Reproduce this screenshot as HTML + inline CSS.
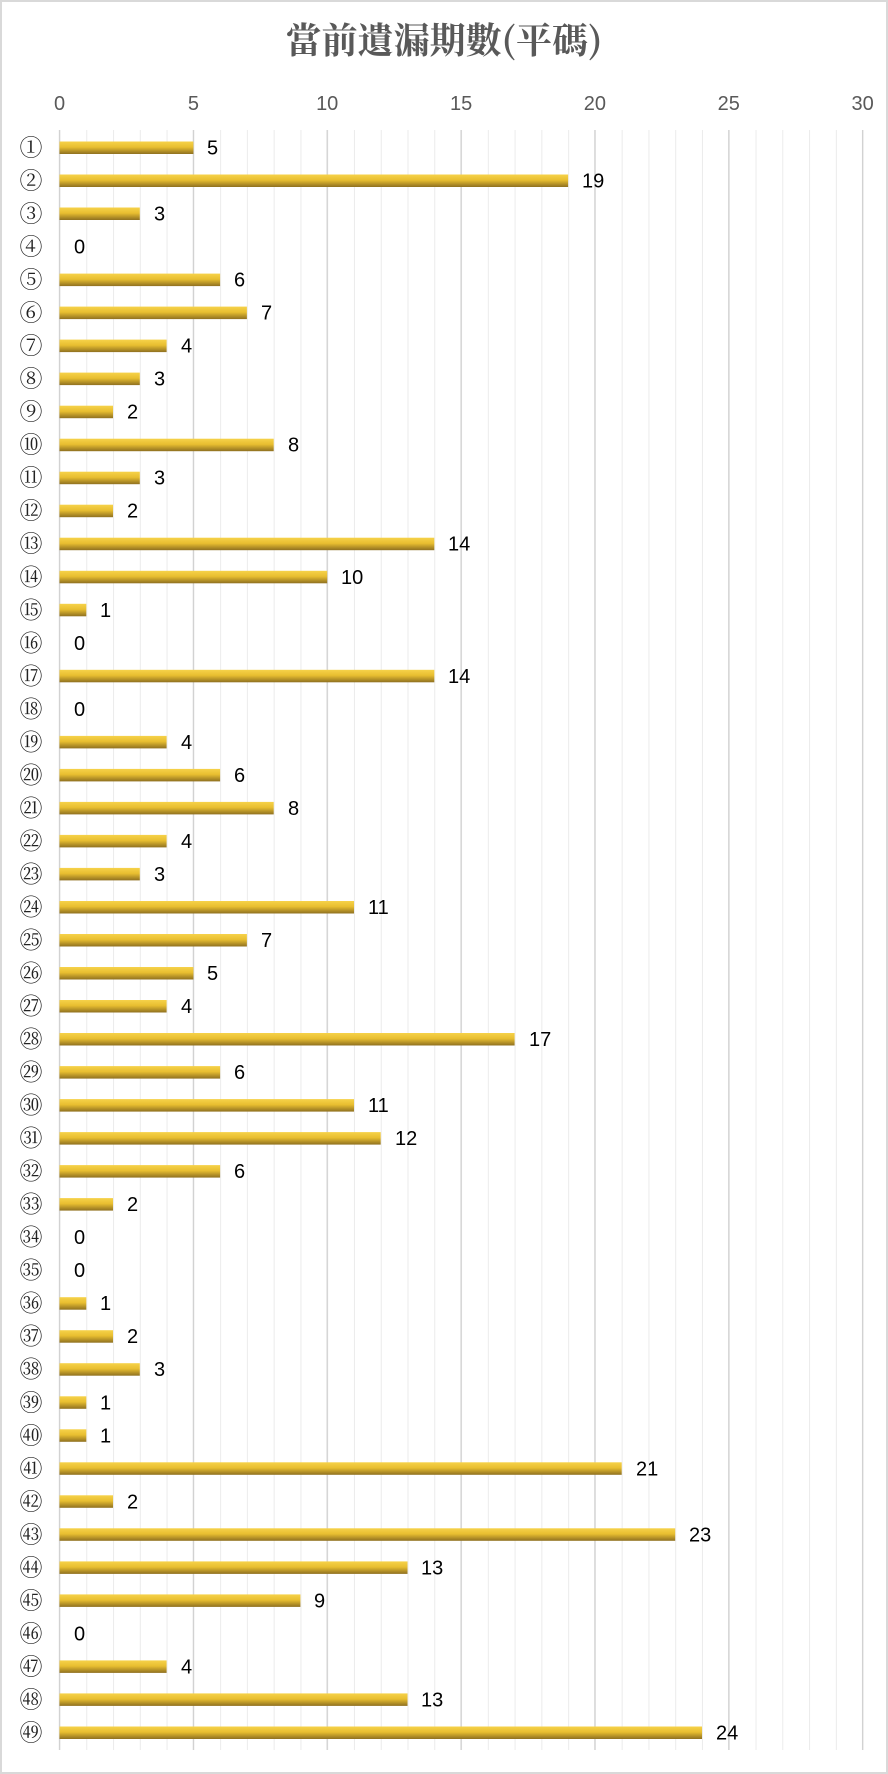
<!DOCTYPE html>
<html><head><meta charset="utf-8"><style>
html,body{margin:0;padding:0;background:#fff}
svg{display:block}
.c{font-family:"Liberation Serif","Noto Serif CJK SC",serif;font-size:23px;fill:#222;text-anchor:middle}
.v{font-family:"Liberation Sans","DejaVu Sans",sans-serif;font-size:20px;fill:#000}
.a{font-family:"Liberation Sans","DejaVu Sans",sans-serif;font-size:20px;fill:#595959;text-anchor:middle}
</style></head><body>
<svg width="888" height="1774" viewBox="0 0 888 1774" xmlns="http://www.w3.org/2000/svg">
<defs>
<linearGradient id="g" x1="0" y1="0" x2="0" y2="1">
<stop offset="0" stop-color="#f6d24a"/><stop offset="0.45" stop-color="#e8be30"/><stop offset="1" stop-color="#8f7020"/>
</linearGradient>
<pattern id="p" x="59.5" y="0" width="26.77" height="10" patternUnits="userSpaceOnUse">
<rect x="0" y="0" width="1" height="10" fill="#ebebeb"/>
</pattern>
</defs>
<rect x="1" y="1" width="886" height="1772" fill="#fff" stroke="#d9d9d9" stroke-width="2"/>
<text x="444" y="53" text-anchor="middle" font-family="'Noto Serif CJK SC','Noto Sans CJK TC',serif" font-size="36" font-weight="bold" fill="#595959">當前遺漏期數(平碼)</text>
<rect x="59.5" y="130" width="804" height="1620" fill="url(#p)"/>
<g stroke="#d2d2d2" stroke-width="1.3">
<line x1="59.5" y1="130" x2="59.5" y2="1750"/><line x1="193.4" y1="130" x2="193.4" y2="1750"/><line x1="327.2" y1="130" x2="327.2" y2="1750"/><line x1="461.1" y1="130" x2="461.1" y2="1750"/><line x1="594.9" y1="130" x2="594.9" y2="1750"/><line x1="728.8" y1="130" x2="728.8" y2="1750"/><line x1="862.6" y1="130" x2="862.6" y2="1750"/>
</g>
<g>
<text x="59.5" y="110" class="a">0</text><text x="193.4" y="110" class="a">5</text><text x="327.2" y="110" class="a">10</text><text x="461.1" y="110" class="a">15</text><text x="594.9" y="110" class="a">20</text><text x="728.8" y="110" class="a">25</text><text x="862.6" y="110" class="a">30</text>
</g>
<g transform="translate(0,147.5)"><text x="31" y="8" class="c">①</text><rect x="59.5" y="-6" width="133.9" height="12.5" fill="url(#g)"/><text x="207" y="7" class="v">5</text></g>
<g transform="translate(0,180.5)"><text x="31" y="8" class="c">②</text><rect x="59.5" y="-6" width="508.6" height="12.5" fill="url(#g)"/><text x="582" y="7" class="v">19</text></g>
<g transform="translate(0,213.5)"><text x="31" y="8" class="c">③</text><rect x="59.5" y="-6" width="80.3" height="12.5" fill="url(#g)"/><text x="154" y="7" class="v">3</text></g>
<g transform="translate(0,246.6)"><text x="31" y="8" class="c">④</text><text x="74" y="7" class="v">0</text></g>
<g transform="translate(0,279.6)"><text x="31" y="8" class="c">⑤</text><rect x="59.5" y="-6" width="160.6" height="12.5" fill="url(#g)"/><text x="234" y="7" class="v">6</text></g>
<g transform="translate(0,312.6)"><text x="31" y="8" class="c">⑥</text><rect x="59.5" y="-6" width="187.4" height="12.5" fill="url(#g)"/><text x="261" y="7" class="v">7</text></g>
<g transform="translate(0,345.6)"><text x="31" y="8" class="c">⑦</text><rect x="59.5" y="-6" width="107.1" height="12.5" fill="url(#g)"/><text x="181" y="7" class="v">4</text></g>
<g transform="translate(0,378.6)"><text x="31" y="8" class="c">⑧</text><rect x="59.5" y="-6" width="80.3" height="12.5" fill="url(#g)"/><text x="154" y="7" class="v">3</text></g>
<g transform="translate(0,411.7)"><text x="31" y="8" class="c">⑨</text><rect x="59.5" y="-6" width="53.5" height="12.5" fill="url(#g)"/><text x="127" y="7" class="v">2</text></g>
<g transform="translate(0,444.7)"><text x="31" y="8" class="c">⑩</text><rect x="59.5" y="-6" width="214.2" height="12.5" fill="url(#g)"/><text x="288" y="7" class="v">8</text></g>
<g transform="translate(0,477.7)"><text x="31" y="8" class="c">⑪</text><rect x="59.5" y="-6" width="80.3" height="12.5" fill="url(#g)"/><text x="154" y="7" class="v">3</text></g>
<g transform="translate(0,510.7)"><text x="31" y="8" class="c">⑫</text><rect x="59.5" y="-6" width="53.5" height="12.5" fill="url(#g)"/><text x="127" y="7" class="v">2</text></g>
<g transform="translate(0,543.7)"><text x="31" y="8" class="c">⑬</text><rect x="59.5" y="-6" width="374.8" height="12.5" fill="url(#g)"/><text x="448" y="7" class="v">14</text></g>
<g transform="translate(0,576.8)"><text x="31" y="8" class="c">⑭</text><rect x="59.5" y="-6" width="267.7" height="12.5" fill="url(#g)"/><text x="341" y="7" class="v">10</text></g>
<g transform="translate(0,609.8)"><text x="31" y="8" class="c">⑮</text><rect x="59.5" y="-6" width="26.8" height="12.5" fill="url(#g)"/><text x="100" y="7" class="v">1</text></g>
<g transform="translate(0,642.8)"><text x="31" y="8" class="c">⑯</text><text x="74" y="7" class="v">0</text></g>
<g transform="translate(0,675.8)"><text x="31" y="8" class="c">⑰</text><rect x="59.5" y="-6" width="374.8" height="12.5" fill="url(#g)"/><text x="448" y="7" class="v">14</text></g>
<g transform="translate(0,708.8)"><text x="31" y="8" class="c">⑱</text><text x="74" y="7" class="v">0</text></g>
<g transform="translate(0,741.9)"><text x="31" y="8" class="c">⑲</text><rect x="59.5" y="-6" width="107.1" height="12.5" fill="url(#g)"/><text x="181" y="7" class="v">4</text></g>
<g transform="translate(0,774.9)"><text x="31" y="8" class="c">⑳</text><rect x="59.5" y="-6" width="160.6" height="12.5" fill="url(#g)"/><text x="234" y="7" class="v">6</text></g>
<g transform="translate(0,807.9)"><text x="31" y="8" class="c">㉑</text><rect x="59.5" y="-6" width="214.2" height="12.5" fill="url(#g)"/><text x="288" y="7" class="v">8</text></g>
<g transform="translate(0,840.9)"><text x="31" y="8" class="c">㉒</text><rect x="59.5" y="-6" width="107.1" height="12.5" fill="url(#g)"/><text x="181" y="7" class="v">4</text></g>
<g transform="translate(0,873.9)"><text x="31" y="8" class="c">㉓</text><rect x="59.5" y="-6" width="80.3" height="12.5" fill="url(#g)"/><text x="154" y="7" class="v">3</text></g>
<g transform="translate(0,907.0)"><text x="31" y="8" class="c">㉔</text><rect x="59.5" y="-6" width="294.5" height="12.5" fill="url(#g)"/><text x="368" y="7" class="v">11</text></g>
<g transform="translate(0,940.0)"><text x="31" y="8" class="c">㉕</text><rect x="59.5" y="-6" width="187.4" height="12.5" fill="url(#g)"/><text x="261" y="7" class="v">7</text></g>
<g transform="translate(0,973.0)"><text x="31" y="8" class="c">㉖</text><rect x="59.5" y="-6" width="133.9" height="12.5" fill="url(#g)"/><text x="207" y="7" class="v">5</text></g>
<g transform="translate(0,1006.0)"><text x="31" y="8" class="c">㉗</text><rect x="59.5" y="-6" width="107.1" height="12.5" fill="url(#g)"/><text x="181" y="7" class="v">4</text></g>
<g transform="translate(0,1039.0)"><text x="31" y="8" class="c">㉘</text><rect x="59.5" y="-6" width="455.1" height="12.5" fill="url(#g)"/><text x="529" y="7" class="v">17</text></g>
<g transform="translate(0,1072.1)"><text x="31" y="8" class="c">㉙</text><rect x="59.5" y="-6" width="160.6" height="12.5" fill="url(#g)"/><text x="234" y="7" class="v">6</text></g>
<g transform="translate(0,1105.1)"><text x="31" y="8" class="c">㉚</text><rect x="59.5" y="-6" width="294.5" height="12.5" fill="url(#g)"/><text x="368" y="7" class="v">11</text></g>
<g transform="translate(0,1138.1)"><text x="31" y="8" class="c">㉛</text><rect x="59.5" y="-6" width="321.2" height="12.5" fill="url(#g)"/><text x="395" y="7" class="v">12</text></g>
<g transform="translate(0,1171.1)"><text x="31" y="8" class="c">㉜</text><rect x="59.5" y="-6" width="160.6" height="12.5" fill="url(#g)"/><text x="234" y="7" class="v">6</text></g>
<g transform="translate(0,1204.1)"><text x="31" y="8" class="c">㉝</text><rect x="59.5" y="-6" width="53.5" height="12.5" fill="url(#g)"/><text x="127" y="7" class="v">2</text></g>
<g transform="translate(0,1237.2)"><text x="31" y="8" class="c">㉞</text><text x="74" y="7" class="v">0</text></g>
<g transform="translate(0,1270.2)"><text x="31" y="8" class="c">㉟</text><text x="74" y="7" class="v">0</text></g>
<g transform="translate(0,1303.2)"><text x="31" y="8" class="c">㊱</text><rect x="59.5" y="-6" width="26.8" height="12.5" fill="url(#g)"/><text x="100" y="7" class="v">1</text></g>
<g transform="translate(0,1336.2)"><text x="31" y="8" class="c">㊲</text><rect x="59.5" y="-6" width="53.5" height="12.5" fill="url(#g)"/><text x="127" y="7" class="v">2</text></g>
<g transform="translate(0,1369.2)"><text x="31" y="8" class="c">㊳</text><rect x="59.5" y="-6" width="80.3" height="12.5" fill="url(#g)"/><text x="154" y="7" class="v">3</text></g>
<g transform="translate(0,1402.3)"><text x="31" y="8" class="c">㊴</text><rect x="59.5" y="-6" width="26.8" height="12.5" fill="url(#g)"/><text x="100" y="7" class="v">1</text></g>
<g transform="translate(0,1435.3)"><text x="31" y="8" class="c">㊵</text><rect x="59.5" y="-6" width="26.8" height="12.5" fill="url(#g)"/><text x="100" y="7" class="v">1</text></g>
<g transform="translate(0,1468.3)"><text x="31" y="8" class="c">㊶</text><rect x="59.5" y="-6" width="562.2" height="12.5" fill="url(#g)"/><text x="636" y="7" class="v">21</text></g>
<g transform="translate(0,1501.3)"><text x="31" y="8" class="c">㊷</text><rect x="59.5" y="-6" width="53.5" height="12.5" fill="url(#g)"/><text x="127" y="7" class="v">2</text></g>
<g transform="translate(0,1534.3)"><text x="31" y="8" class="c">㊸</text><rect x="59.5" y="-6" width="615.7" height="12.5" fill="url(#g)"/><text x="689" y="7" class="v">23</text></g>
<g transform="translate(0,1567.4)"><text x="31" y="8" class="c">㊹</text><rect x="59.5" y="-6" width="348" height="12.5" fill="url(#g)"/><text x="421" y="7" class="v">13</text></g>
<g transform="translate(0,1600.4)"><text x="31" y="8" class="c">㊺</text><rect x="59.5" y="-6" width="240.9" height="12.5" fill="url(#g)"/><text x="314" y="7" class="v">9</text></g>
<g transform="translate(0,1633.4)"><text x="31" y="8" class="c">㊻</text><text x="74" y="7" class="v">0</text></g>
<g transform="translate(0,1666.4)"><text x="31" y="8" class="c">㊼</text><rect x="59.5" y="-6" width="107.1" height="12.5" fill="url(#g)"/><text x="181" y="7" class="v">4</text></g>
<g transform="translate(0,1699.4)"><text x="31" y="8" class="c">㊽</text><rect x="59.5" y="-6" width="348" height="12.5" fill="url(#g)"/><text x="421" y="7" class="v">13</text></g>
<g transform="translate(0,1732.5)"><text x="31" y="8" class="c">㊾</text><rect x="59.5" y="-6" width="642.5" height="12.5" fill="url(#g)"/><text x="716" y="7" class="v">24</text></g>
</svg>
</body></html>
